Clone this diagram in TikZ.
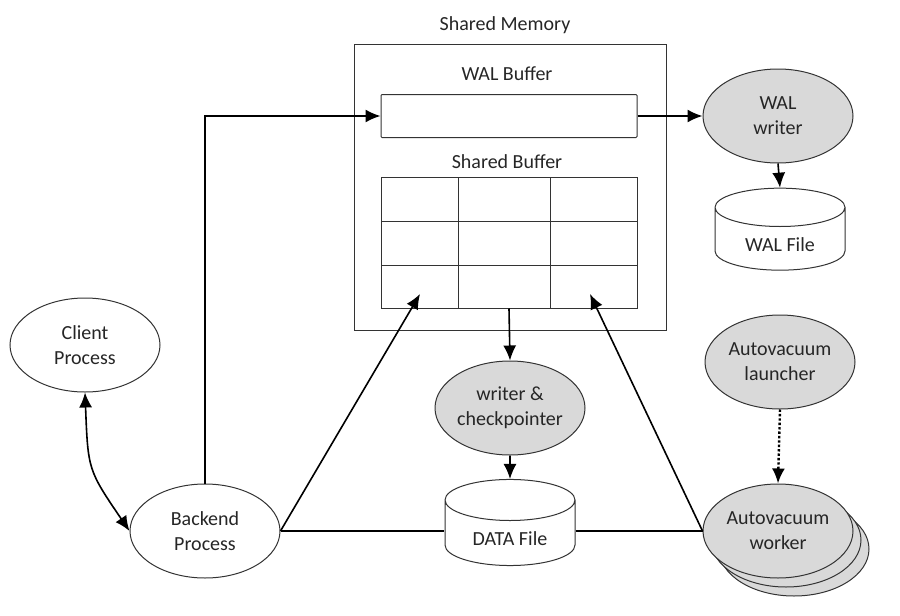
\documentclass[tikz,border=0pt]{standalone}
\usepackage{fontspec}
\setmainfont{Carlito}
\usetikzlibrary{arrows.meta,positioning,shapes.geometric}

\begin{document}
\begin{tikzpicture}[
    x=1pt, y=-1pt,
    >={Latex[length=15pt,width=13pt]},
    line width=1.6pt,
    font=\fontsize{20}{25}\selectfont,
    proc/.style={
		ellipse,
		draw=black!80,
		line width=1pt,
		fill=gray!30,
		align=center,
		text=black!85,
		minimum width=150,
		minimum height=94,
		inner sep=0pt
	},
	store/.style={
		cylinder,
		shape border rotate=90,
		aspect=0.55,
		draw=black!80,
		line width=1pt,
		fill=white,
		text=black!85,
		text height=24pt,
		text depth=0pt,
		minimum width=130,
		minimum height=80,
		inner sep=0pt
	},
	memlabel/.style={
		text=black!85,
		inner sep=0pt
	}
  ]
  \useasboundingbox (0,0) rectangle (900,616);

  % shared memory with its two buffers
  \node [draw=black!80, line width=1pt, minimum width=312, minimum height=286, inner sep=0pt] (shm) at (510,187) {};
  \node [memlabel] (shmlabel) at (505,25) {Shared Memory};
  \node [memlabel] (walbuflabel) at (507,74) {WAL Buffer};
  \node [draw=black!80, line width=1pt, rounded corners=1pt, minimum width=256, minimum height=43, inner sep=0pt] (walbuf) at (509,116) {};
  \node [memlabel] (shbuflabel) at (507,162) {Shared Buffer};
  \node [draw=black!80, line width=1pt, minimum width=256, minimum height=131, inner sep=0pt] (shbuf) at (509,242.5) {};
  \draw [black!80, line width=1pt] (458,177) -- (458,308) (550,177) -- (550,308)
        (381,221) -- (637,221) (381,265) -- (637,265);
  \coordinate (leftcell) at (420,294);
  \coordinate (rightcell) at (590,294);

  % processes
  \node [proc, fill=white] (client) at (85,345) {Client\\Process};
  \node [proc, fill=white] (backend) at (205,531) {Backend\\Process};
  \node [proc] (walwriter) at (778,116) {WAL\\writer};
  \node [proc] (bgwriter) at (510,408) {writer \&\\checkpointer};
  \node [proc] (launcher) at (780,362) {Autovacuum\\launcher};
  \node [proc] (worker3) at (794,549) {};
  \node [proc] (worker2) at (786,540) {};
  \node [proc] (worker) at (778,531) {Autovacuum\\worker};

  % files
  \node [store] (walfile) at (780,239) {WAL File};
  \node [store] (datafile) at (510,533) {DATA File};

  % connectors
  \draw [<->] (client.south) .. controls (88,470) .. (backend.west);
  \draw [->] (backend.north) |- (walbuf.west);
  \draw [->] (walbuf.east) -- (walwriter.west);
  \draw [->] (walwriter.south) -- (walfile.north);
  \draw [->] (shbuf.south) -- (bgwriter.north);
  \draw [->] (bgwriter.south) -- (datafile.north);
  \draw [->] (backend.east) -- (leftcell);
  \draw [->] (worker.west) -- (rightcell);
  \draw (backend.east) -- (backend.east -| datafile.west);
  \draw (datafile.east |- worker.west) -- (worker.west);
  \draw [->, line width=2.4pt, dash pattern=on 2.4pt off 2pt] (launcher.south) -- (worker.north);
\end{tikzpicture}
\end{document}
